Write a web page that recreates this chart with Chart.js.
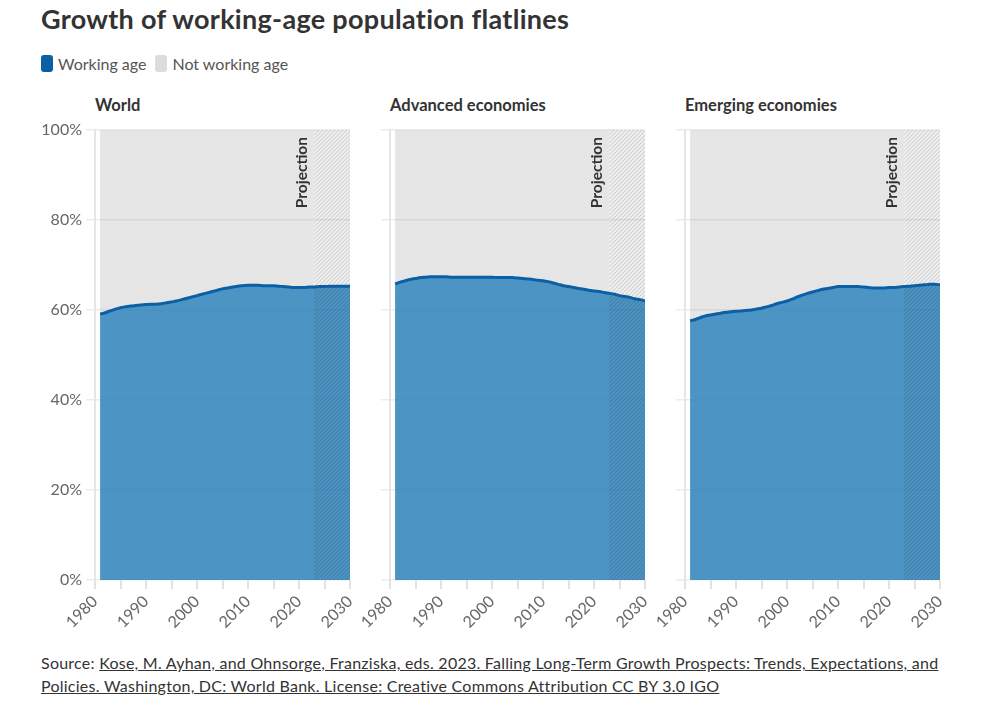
<!DOCTYPE html>
<html>
<head>
<meta charset="utf-8">
<script src="https://cdn.jsdelivr.net/npm/chart.js@4.4.1/dist/chart.umd.min.js"></script>
<style>
  body { margin: 0; background: #fff; }
  #wrap { position: relative; width: 1005px; height: 723px; font-family: Lato, "Open Sans", sans-serif; color: #333; }
  .title { position: absolute; left: 41px; top: 2px; font-size: 27px; letter-spacing: 0.3px; font-weight: 700; color: #333; }
  .legend { position: absolute; left: 41px; top: 54px; font-size: 16px; color: #555; display: flex; align-items: center; }
  .sw { display: inline-block; width: 12px; height: 17px; border-radius: 3px; margin-right: 5px; }
  .panel-title { position: absolute; top: 95px; font-size: 16.5px; font-weight: 700; color: #333; }
  canvas { position: absolute; top: 115px; }
  .source { position: absolute; left: 41px; top: 651px; font-size: 16px; letter-spacing: 0.25px; line-height: 23px; color: #333; }
  .source span { text-decoration: underline; }
</style>
</head>
<body>
<div id="wrap">
  <div class="title">Growth of working-age population flatlines</div>
  <div class="legend">
    <span class="sw" style="background:#0b5fa5"></span><span style="margin-right:9px">Working age</span>
    <span class="sw" style="background:#dcdcdc"></span><span>Not working age</span>
  </div>
  <div class="panel-title" style="left:95px">World</div>
  <div class="panel-title" style="left:390px">Advanced economies</div>
  <div class="panel-title" style="left:685px">Emerging economies</div>
  <canvas id="c0" width="340" height="525" style="left:30px"></canvas>
  <canvas id="c1" width="340" height="525" style="left:325px"></canvas>
  <canvas id="c2" width="340" height="525" style="left:620px"></canvas>
  <div class="source">Source: <span>Kose, M. Ayhan, and Ohnsorge, Franziska, eds. 2023. Falling Long-Term Growth Prospects: Trends, Expectations, and</span><br><span>Policies. Washington, DC: World Bank. License: Creative Commons Attribution CC BY 3.0 IGO</span></div>
</div>
<script>
const years = [];
for (let y = 1981; y <= 2030; y++) years.push(y);

const projectionStart = 2023;

// share of working-age population, % (1981-2030)
const worldWorking = [
  59.1, 59.4, 59.8, 60.2, 60.5, 60.7, 60.9, 61.0, 61.1, 61.2,
  61.3, 61.3, 61.4, 61.6, 61.8, 62.0, 62.3, 62.6, 62.9, 63.2,
  63.5, 63.8, 64.1, 64.4, 64.7, 64.9, 65.1, 65.3, 65.4, 65.5,
  65.5, 65.5, 65.4, 65.4, 65.4, 65.3, 65.2, 65.1, 65.0, 65.0,
  65.0, 65.1, 65.1, 65.2, 65.2, 65.3, 65.3, 65.3, 65.3, 65.3
];
const advancedWorking = [
  65.8, 66.2, 66.5, 66.8, 67.0, 67.2, 67.3, 67.4, 67.4, 67.4,
  67.4, 67.3, 67.3, 67.3, 67.3, 67.3, 67.3, 67.3, 67.3, 67.3,
  67.2, 67.2, 67.2, 67.2, 67.1, 67.0, 66.9, 66.8, 66.6, 66.5,
  66.3, 66.0, 65.7, 65.4, 65.2, 65.0, 64.8, 64.6, 64.4, 64.2,
  64.1, 63.9, 63.7, 63.5, 63.2, 63.0, 62.8, 62.5, 62.3, 62.0
];
const emergingWorking = [
  57.6, 57.9, 58.3, 58.7, 58.9, 59.1, 59.3, 59.5, 59.6, 59.7,
  59.8, 59.9, 60.0, 60.2, 60.4, 60.7, 61.0, 61.4, 61.7, 62.0,
  62.4, 62.9, 63.3, 63.7, 64.0, 64.3, 64.6, 64.8, 65.0, 65.2,
  65.2, 65.2, 65.2, 65.2, 65.1, 65.0, 64.9, 64.9, 64.9, 65.0,
  65.0, 65.1, 65.2, 65.3, 65.4, 65.5, 65.6, 65.7, 65.7, 65.6
];

const blueLine = '#0b5fa5';
const blueFill = 'rgba(43,129,186,0.85)';
const grayFill = 'rgba(128,128,128,0.2)';
const grayFillProj = 'rgba(128,128,128,0.1)';

// diagonal hatch for the projection period
const hatch = (() => {
  const c = document.createElement('canvas');
  c.width = 4; c.height = 4;
  const g = c.getContext('2d');
  g.strokeStyle = 'rgba(40,40,40,0.16)';
  g.lineWidth = 1.2;
  g.beginPath();
  g.moveTo(0, 4); g.lineTo(4, 0);
  g.moveTo(-1, 1); g.lineTo(1, -1);
  g.moveTo(3, 5); g.lineTo(5, 3);
  g.stroke();
  return g.createPattern(c, 'repeat');
})();

const projectionPlugin = {
  id: 'projection',
  beforeDatasetDraw(chart, args) {
    if (args.index !== 0) return;
    const a = chart.chartArea;
    const x0 = chart.scales.x.getPixelForValue(projectionStart);
    const ctx = chart.ctx;
    ctx.save();
    ctx.fillStyle = hatch;
    ctx.fillRect(x0, a.top, a.right - x0, a.bottom - a.top);
    ctx.restore();
  },
  afterDraw(chart) {
    const a = chart.chartArea;
    const x0 = chart.scales.x.getPixelForValue(projectionStart);
    const ctx = chart.ctx;
    ctx.save();
    ctx.translate(x0 - 7, a.top + 7);
    ctx.rotate(-Math.PI / 2);
    ctx.font = 'bold 15.5px Lato';
    ctx.fillStyle = '#333';
    ctx.textAlign = 'right';
    ctx.textBaseline = 'alphabetic';
    ctx.fillText('Projection', 0, 0);
    ctx.restore();
  }
};

function makePanel(id, working, showYLabels) {
  const notWorking = working.map(v => +(100 - v).toFixed(1));
  new Chart(document.getElementById(id), {
    type: 'line',
    data: {
      labels: years,
      datasets: [
        {
          label: 'Working age',
          data: working.map((v, i) => ({ x: years[i], y: v })),
          borderColor: blueLine,
          borderWidth: 3,
          backgroundColor: blueFill,
          fill: 'origin',
          pointRadius: 0,
          cubicInterpolationMode: 'monotone'
        },
        {
          label: 'Not working age',
          data: notWorking.map((v, i) => ({ x: years[i], y: v })),
          borderWidth: 0,
          borderColor: 'rgba(0,0,0,0)',
          backgroundColor: ctx => {
            const chart = ctx.chart;
            const a = chart.chartArea;
            if (!a) return grayFill;
            const x0 = chart.scales.x.getPixelForValue(projectionStart);
            const p = Math.min(Math.max((x0 - a.left) / (a.right - a.left), 0), 1);
            const g = chart.ctx.createLinearGradient(a.left, 0, a.right, 0);
            g.addColorStop(0, grayFill);
            g.addColorStop(p, grayFill);
            g.addColorStop(p, grayFillProj);
            g.addColorStop(1, grayFillProj);
            return g;
          },
          fill: '-1',
          pointRadius: 0,
          cubicInterpolationMode: 'monotone'
        }
      ]
    },
    options: {
      responsive: false,
      animation: false,
      layout: { padding: { top: 15, right: 20, left: 0, bottom: 0 } },
      plugins: { legend: { display: false }, tooltip: { enabled: false } },
      scales: {
        x: {
          type: 'linear',
          min: 1980,
          max: 2030,
          afterFit: s => { s.height = 60; },
          grid: { drawOnChartArea: false, drawTicks: true, tickLength: 9, color: '#e2e2e2', lineWidth: 2 },
          border: { display: false },
          ticks: {
            stepSize: 5,
            autoSkip: false,
            maxRotation: 45,
            minRotation: 45,
            color: '#666',
            font: { family: 'Lato', size: 16 },
            callback: v => (v % 10 === 0 ? String(v) : '')
          }
        },
        y: {
          stacked: true,
          min: 0,
          max: 100,
          afterFit: s => { s.width = 65; },
          grid: { color: '#ececec', tickLength: 9, lineWidth: 1.5 },
          border: { display: true, color: '#e6e6e6', width: 2 },
          ticks: {
            stepSize: 20,
            padding: 4,
            color: '#666',
            font: { family: 'Lato', size: 16 },
            callback: v => (showYLabels ? v + '%' : '')
          }
        }
      }
    },
    plugins: [projectionPlugin]
  });
}

makePanel('c0', worldWorking, true);
makePanel('c1', advancedWorking, false);
makePanel('c2', emergingWorking, false);
</script>
</body>
</html>
